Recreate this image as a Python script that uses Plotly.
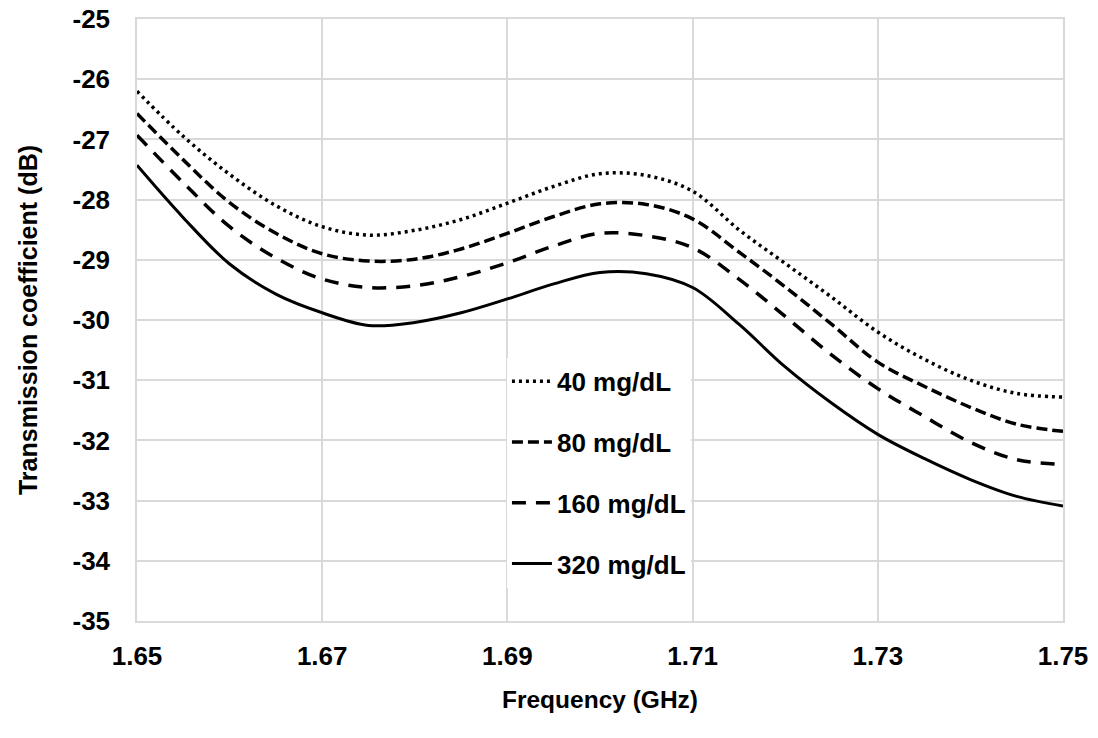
import plotly.graph_objects as go

freq = [1.650, 1.655, 1.660, 1.665, 1.670, 1.675, 1.680, 1.685, 1.690, 1.695, 1.700,
        1.705, 1.710, 1.715, 1.720, 1.725, 1.730, 1.735, 1.740, 1.745, 1.750]

s40 = [-26.20, -26.95, -27.58, -28.10, -28.45, -28.59, -28.51, -28.33, -28.06, -27.78, -27.57,
       -27.60, -27.86, -28.50, -29.06, -29.62, -30.20, -30.65, -31.00, -31.22, -31.28]
s80 = [-26.57, -27.34, -28.05, -28.56, -28.90, -29.02, -28.99, -28.82, -28.56, -28.28, -28.07,
       -28.08, -28.32, -28.87, -29.45, -30.07, -30.70, -31.10, -31.45, -31.73, -31.85]
s160 = [-26.93, -27.72, -28.45, -28.97, -29.32, -29.46, -29.43, -29.28, -29.05, -28.77, -28.56,
        -28.60, -28.80, -29.32, -29.94, -30.58, -31.14, -31.60, -32.03, -32.32, -32.40]
s320 = [-27.43, -28.30, -29.07, -29.57, -29.88, -30.09, -30.04, -29.88, -29.65, -29.40, -29.21,
        -29.23, -29.46, -30.07, -30.78, -31.38, -31.90, -32.30, -32.65, -32.93, -33.09]

names = ["40 mg/dL", "80 mg/dL", "160 mg/dL", "320 mg/dL"]
x_ticks = [1.65, 1.67, 1.69, 1.71, 1.73, 1.75]
x_tick_text = ["1.65", "1.67", "1.69", "1.71", "1.73", "1.75"]
y_ticks = [-25, -26, -27, -28, -29, -30, -31, -32, -33, -34, -35]
y_tick_text = ["-25", "-26", "-27", "-28", "-29", "-30", "-31", "-32", "-33", "-34", "-35"]

styles = [
    dict(dash="3px,4px", width=3.5),
    dict(dash="11px,5px", width=3.5),
    dict(dash="14px,10px", width=3.5),
    dict(dash="solid", width=3),
]

fig = go.Figure()
for i, (nm, ys) in enumerate(zip(names, [s40, s80, s160, s320])):
    fig.add_trace(go.Scatter(
        x=freq, y=ys, name=nm, mode="lines", line_shape="spline",
        line=dict(color="black", **styles[i]), legendgroup=str(i),
    ))

font_family = "Liberation Sans, Arial, sans-serif"
fig.update_layout(
    width=1098, height=738,
    margin=dict(l=137, r=35, t=19, b=117),
    paper_bgcolor="white", plot_bgcolor="white",
    font=dict(family=font_family, color="black"),
    showlegend=True,
    legend=dict(
        x=0.3995, y=0.4373, xanchor="left", yanchor="top",
        bgcolor="white", borderwidth=0,
        font=dict(size=26, family=font_family, color="black", weight="bold"),
        traceorder="grouped", tracegroupgap=24,
        itemwidth=40,
    ),
)
fig.update_xaxes(
    range=[1.65, 1.75], tickvals=x_ticks, ticktext=x_tick_text,
    showgrid=True, gridcolor="#d9d9d9", gridwidth=1.5,
    showline=True, linecolor="#d9d9d9", linewidth=1.5, mirror=True,
    zeroline=False, ticks="", ticklabelstandoff=11, automargin=False,
    tickfont=dict(size=26, family=font_family, color="black", weight="bold"),
    title=dict(text="Frequency (GHz)", standoff=21,
               font=dict(size=24.5, family=font_family, color="black", weight="bold")),
)
fig.update_yaxes(
    range=[-35, -25], tickvals=y_ticks, ticktext=y_tick_text,
    showgrid=True, gridcolor="#d9d9d9", gridwidth=1.5,
    showline=True, linecolor="#d9d9d9", linewidth=1.5, mirror=True,
    zeroline=False, ticks="", ticklabelstandoff=20, automargin=False,
    tickfont=dict(size=26, family=font_family, color="black", weight="bold"),
    title=dict(text="Transmission coefficient (dB)", standoff=28,
               font=dict(size=25, family=font_family, color="black", weight="bold")),
)

fig.write_html("out.html",
               config={"displayModeBar": False},
               post_script="document.body.style.margin='0';document.body.style.padding='0';")
